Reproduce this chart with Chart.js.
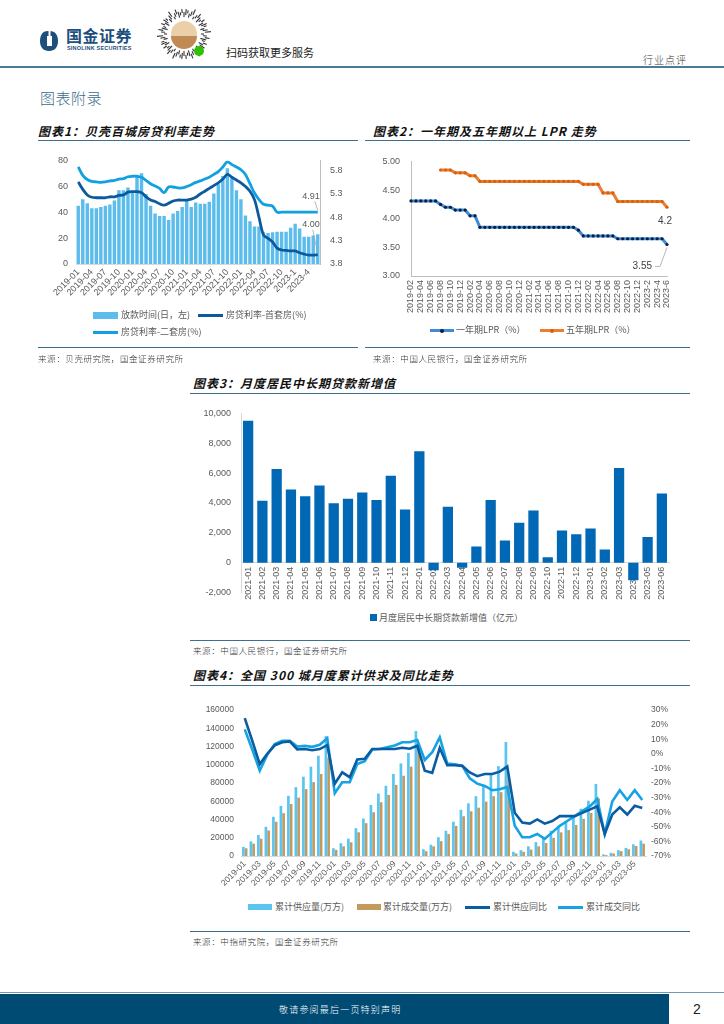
<!DOCTYPE html>
<html>
<head>
<meta charset="utf-8">
<script src="https://cdn.jsdelivr.net/npm/chart.js@4.4.0/dist/chart.umd.min.js"></script>
<style>
  body { margin:0; width:724px; height:1024px; position:relative; background:#fff; overflow:hidden;
         font-family:"Noto Sans CJK SC", sans-serif; }
  .abs { position:absolute; }
  .title { position:absolute; font-size:12px; font-weight:700; font-style:italic; letter-spacing:1px; color:#111; white-space:nowrap; line-height:14px; }
  .rule { position:absolute; height:0; border-top:1.5px solid #3F6F8F; }
  .src { position:absolute; font-size:8.5px; color:#333; letter-spacing:.6px; white-space:nowrap; font-weight:300; line-height:12px; }
  .lg { position:absolute; font-size:9px; color:#595959; white-space:nowrap; line-height:12px; }
  .sw { position:absolute; }
</style>
</head>
<body>

<!-- header -->
<svg class="abs" style="left:39px;top:30px" width="20" height="22" viewBox="0 0 20 22">
  <path d="M9 1 C3 1 1 6 1 11 C1 17 4 21 10 21 C16 21 19 17 19 11 C19 5 16 1 11 1 Z" fill="#1D4F7C"/>
  <rect x="8" y="6" width="5" height="10" fill="#fff"/>
  <rect x="9.5" y="1" width="2" height="5" fill="#fff"/>
</svg>
<div class="abs" style="left:66px;top:26px;font-size:16px;font-weight:700;color:#1D4F7C;line-height:18px;letter-spacing:.5px">国金证券</div>
<div class="abs" style="left:67px;top:45px;font-size:5.5px;font-weight:700;color:#1D4F7C;line-height:7px;font-family:'Liberation Sans',sans-serif;letter-spacing:.2px">SINOLINK SECURITIES</div>
<svg id="qr" class="abs" style="left:155px;top:5px" width="58" height="58" viewBox="0 0 58 58"></svg>
<div class="abs" style="left:226px;top:45px;font-size:11px;color:#222;line-height:14px">扫码获取更多服务</div>
<div class="abs" style="left:643px;top:53px;font-size:10px;color:#333;line-height:13px;letter-spacing:1px;font-weight:300">行业点评</div>
<div class="abs" style="left:0;top:66px;width:724px;height:2px;background:#4E7A96"></div>
<div class="abs" style="left:40px;top:88px;font-size:15px;color:#3A6B8C;line-height:20px;letter-spacing:.5px;font-weight:300">图表附录</div>

<!-- chart 1 frame -->
<div class="title" style="left:38px;top:124px">图表1：贝壳百城房贷利率走势</div>
<div class="rule" style="left:38px;top:140px;width:320px"></div>
<div class="abs" style="left:38px;top:145px;width:322px;height:165px"><canvas id="c1"></canvas></div>
<div class="sw" style="left:93px;top:312px;width:25px;height:7px;background:#5CBDED"></div>
<div class="lg" style="left:121px;top:309px">放款时间(日，左)</div>
<div class="sw" style="left:198px;top:314px;width:25px;height:3px;background:#0B5A9E"></div>
<div class="lg" style="left:226px;top:309px">房贷利率-首套房(%)</div>
<div class="sw" style="left:93px;top:331px;width:25px;height:3px;background:#11A0E0"></div>
<div class="lg" style="left:121px;top:326px">房贷利率-二套房(%)</div>
<div class="rule" style="left:38px;top:347px;width:320px"></div>
<div class="src" style="left:38px;top:352px">来源：贝壳研究院，国金证券研究所</div>

<!-- chart 2 frame -->
<div class="title" style="left:373px;top:124px">图表2：一年期及五年期以上 LPR 走势</div>
<div class="rule" style="left:365px;top:140px;width:325px"></div>
<div class="abs" style="left:365px;top:145px;width:325px;height:178px"><canvas id="c2"></canvas></div>
<div class="sw" style="left:430px;top:329px;width:24px;height:3px;background:#3F8CD6"></div>
<div class="sw" style="left:440px;top:328.5px;width:4px;height:4px;border-radius:2px;background:#0C1E3C"></div>
<div class="lg" style="left:456px;top:324px">一年期LPR（%）</div>
<div class="sw" style="left:540px;top:329px;width:24px;height:3px;background:#ED7D31"></div>
<div class="sw" style="left:550px;top:328.5px;width:4px;height:4px;border-radius:2px;background:#D9600A"></div>
<div class="lg" style="left:566px;top:324px">五年期LPR（%）</div>
<div class="rule" style="left:365px;top:347px;width:325px"></div>
<div class="src" style="left:373px;top:352px">来源：中国人民银行，国金证券研究所</div>

<!-- chart 3 frame -->
<div class="title" style="left:193px;top:376px">图表3：月度居民中长期贷款新增值</div>
<div class="rule" style="left:190px;top:393px;width:500px"></div>
<div class="abs" style="left:190px;top:398px;width:500px;height:210px"><canvas id="c3"></canvas></div>
<div class="sw" style="left:370px;top:614px;width:7px;height:7px;background:#0068B5"></div>
<div class="lg" style="left:379px;top:612px">月度居民中长期贷款新增值（亿元）</div>
<div class="rule" style="left:190px;top:640px;width:500px"></div>
<div class="src" style="left:193px;top:644px">来源：中国人民银行，国金证券研究所</div>

<!-- chart 4 frame -->
<div class="title" style="left:193px;top:668px">图表4：全国 300 城月度累计供求及同比走势</div>
<div class="rule" style="left:190px;top:685px;width:500px"></div>
<div class="abs" style="left:190px;top:698px;width:500px;height:200px"><canvas id="c4"></canvas></div>
<div class="sw" style="left:248px;top:904px;width:24px;height:6px;background:#5BC5F2"></div>
<div class="lg" style="left:275px;top:901px">累计供应量(万方)</div>
<div class="sw" style="left:357px;top:904px;width:24px;height:6px;background:#C49A5C"></div>
<div class="lg" style="left:383px;top:901px">累计成交量(万方)</div>
<div class="sw" style="left:465px;top:905.5px;width:25px;height:3px;background:#0B5DA3"></div>
<div class="lg" style="left:493px;top:901px">累计供应同比</div>
<div class="sw" style="left:558px;top:905.5px;width:25px;height:3px;background:#15A3E3"></div>
<div class="lg" style="left:586px;top:901px">累计成交同比</div>
<div class="rule" style="left:190px;top:931px;width:500px"></div>
<div class="src" style="left:193px;top:935px">来源：中指研究院，国金证券研究所</div>

<!-- footer -->
<div class="abs" style="left:0;top:992px;width:724px;height:1px;background:#6E9BB8"></div>
<div class="abs" style="left:0;top:994px;width:669px;height:30px;background:#004B74"></div>
<div class="abs" style="left:279px;top:1003px;font-size:9px;color:#fff;line-height:13px;letter-spacing:1.2px;font-weight:300">敬请参阅最后一页特别声明</div>
<div class="abs" style="left:693px;top:1000px;font-size:14px;color:#222;line-height:18px;font-family:'Liberation Sans',sans-serif">2</div>

<script>
// ---------- data: chart 1 (贝壳百城房贷利率) ----------
const months1 = [
  '2019-01','2019-02','2019-03','2019-04','2019-05','2019-06','2019-07','2019-08','2019-09','2019-10','2019-11','2019-12',
  '2020-01','2020-02','2020-03','2020-04','2020-05','2020-06','2020-07','2020-08','2020-09','2020-10','2020-11','2020-12',
  '2021-01','2021-02','2021-03','2021-04','2021-05','2021-06','2021-07','2021-08','2021-09','2021-10','2021-11','2021-12',
  '2022-01','2022-02','2022-03','2022-04','2022-05','2022-06','2022-07','2022-08','2022-09','2022-10','2022-11','2022-12',
  '2023-1','2023-2','2023-3','2023-4','2023-5','2023-6'
];
const loanDays = [
  45, 50, 47, 43, 43, 44, 45, 46, 49, 57, 57, 59,
  56, 68, 70, 54, 45, 39, 37, 37, 34, 39, 41, 44,
  50, 44, 47.5, 46.5, 46.5, 48, 54.5, 61.5, 68, 74, 67, 57,
  50, 37.5, 33, 29, 29, 24.5, 24, 24.5, 25, 25, 25, 28,
  31, 27.5, 21, 21, 22, 23
];
const rate1st = [
  5.56, 5.40, 5.28, 5.23, 5.22, 5.22, 5.22, 5.24, 5.24, 5.27, 5.28, 5.34,
  5.35, 5.35, 5.33, 5.24, 5.17, 5.14, 5.09, 5.06, 5.10, 5.15, 5.17, 5.17,
  5.17, 5.19, 5.23, 5.30, 5.36, 5.42, 5.48, 5.54, 5.62, 5.72, 5.66, 5.60,
  5.54, 5.46, 5.36, 5.18, 4.80, 4.42, 4.35, 4.27, 4.14, 4.10, 4.09, 4.08,
  4.08, 4.04, 4.01, 3.99, 3.99, 4.00
];
const rate2nd = [
  5.88, 5.70, 5.61, 5.57, 5.56, 5.55, 5.56, 5.58, 5.59, 5.62, 5.63, 5.67,
  5.68, 5.68, 5.66, 5.59, 5.52, 5.47, 5.42, 5.33, 5.45, 5.45, 5.43, 5.43,
  5.46, 5.50, 5.55, 5.58, 5.62, 5.66, 5.72, 5.78, 5.88, 5.99, 5.93, 5.88,
  5.82, 5.72, 5.52, 5.32, 5.18, 5.08, 5.06, 5.04, 4.91, 4.91, 4.91, 4.91,
  4.91, 4.91, 4.91, 4.91, 4.91, 4.91
];
const rateTicks = [3.8, 4.3, 4.8, 5.3, 5.8];

// ---------- data: chart 2 (LPR) ----------
const months2 = [
  '2019-02','2019-03','2019-04','2019-05','2019-06','2019-07','2019-08','2019-09','2019-10','2019-11','2019-12',
  '2020-01','2020-02','2020-03','2020-04','2020-05','2020-06','2020-07','2020-08','2020-09','2020-10','2020-11','2020-12',
  '2021-01','2021-02','2021-03','2021-04','2021-05','2021-06','2021-07','2021-08','2021-09','2021-10','2021-11','2021-12',
  '2022-01','2022-02','2022-03','2022-04','2022-05','2022-06','2022-07','2022-08','2022-09','2022-10','2022-11','2022-12',
  '2023-1','2023-2','2023-3','2023-4','2023-5','2023-6'
];
const lpr1y = [
  4.31, 4.31, 4.31, 4.31, 4.31, 4.31, 4.25, 4.20, 4.20, 4.15, 4.15,
  4.15, 4.05, 4.05, 3.85, 3.85, 3.85, 3.85, 3.85, 3.85, 3.85, 3.85, 3.85,
  3.85, 3.85, 3.85, 3.85, 3.85, 3.85, 3.85, 3.85, 3.85, 3.85, 3.85, 3.80,
  3.70, 3.70, 3.70, 3.70, 3.70, 3.70, 3.70, 3.65, 3.65, 3.65, 3.65, 3.65,
  3.65, 3.65, 3.65, 3.65, 3.65, 3.55
];
const lpr5y = [
  null, null, null, null, null, null, 4.85, 4.85, 4.85, 4.80, 4.80,
  4.80, 4.75, 4.75, 4.65, 4.65, 4.65, 4.65, 4.65, 4.65, 4.65, 4.65, 4.65,
  4.65, 4.65, 4.65, 4.65, 4.65, 4.65, 4.65, 4.65, 4.65, 4.65, 4.65, 4.65,
  4.60, 4.60, 4.60, 4.60, 4.45, 4.45, 4.45, 4.30, 4.30, 4.30, 4.30, 4.30,
  4.30, 4.30, 4.30, 4.30, 4.30, 4.20
];

// ---------- data: chart 3 (居民中长期贷款) ----------
const months3 = [
  '2021-01','2021-02','2021-03','2021-04','2021-05','2021-06','2021-07','2021-08','2021-09','2021-10','2021-11','2021-12',
  '2022-01','2022-02','2022-03','2022-04','2022-05','2022-06','2022-07','2022-08','2022-09','2022-10','2022-11','2022-12',
  '2023-01','2023-02','2023-03','2023-04','2023-05','2023-06'
];
const newLoans = [
  9500, 4150, 6280, 4910, 4460, 5170, 3980, 4290, 4700, 4200, 5820, 3570,
  7470, -500, 3745, -330, 1080, 4200, 1490, 2680, 3500, 370, 2160, 1900,
  2290, 890, 6340, -1170, 1730, 4630
];

// ---------- data: chart 4 (300城累计供求) ----------
const months4 = [
  '2019-01','2019-02','2019-03','2019-04','2019-05','2019-06','2019-07','2019-08','2019-09','2019-10','2019-11','2019-12',
  '2020-01','2020-02','2020-03','2020-04','2020-05','2020-06','2020-07','2020-08','2020-09','2020-10','2020-11','2020-12',
  '2021-01','2021-02','2021-03','2021-04','2021-05','2021-06','2021-07','2021-08','2021-09','2021-10','2021-11','2021-12',
  '2022-01','2022-02','2022-03','2022-04','2022-05','2022-06','2022-07','2022-08','2022-09','2022-10','2022-11','2022-12',
  '2023-01','2023-02','2023-03','2023-04','2023-05','2023-06'
];
const supplyCum = [
  10000, 16000, 23000, 32000, 43000, 55000, 66000, 75500, 87000, 98000, 110000, 131500,
  8500, 14000, 19000, 30500, 41000, 56000, 68500, 77000, 90000, 101500, 113000, 137000,
  7400, 12400, 20600, 27700, 37600, 50700, 57800, 65600, 77300, 89700, 98600, 125000,
  4600, 6400, 10600, 15200, 20600, 27700, 33000, 38300, 43600, 51800, 60600, 79000,
  1800, 3500, 6400, 8900, 12800, 17000
];
const dealCum = [
  8500, 13500, 19000, 28000, 37500, 47000, 57000, 64000, 73400, 81000, 90000, 108000,
  6700, 10600, 15000, 26000, 36000, 48000, 59000, 67000, 78000, 88000, 98000, 119000,
  5300, 10600, 16300, 24000, 33000, 43600, 49000, 53000, 59600, 65600, 70000, 89700,
  2800, 4600, 7000, 10600, 14200, 19900, 25900, 28400, 34000, 40800, 47200, 63000,
  1000, 2800, 5300, 7400, 11000, 13500
];
const supplyYoY = [
  24.5, 9, -7, 0, 5.8, 8, 8.5, 3, 3.3, 2.5, 3.3, 6,
  -20.5, -12.7, -16, -3.8, -3.3, 3.3, 3.3, 3.3, 3.3, 4.2, 3.5, 5.6,
  -11.5, -13, 4, -7.8, -7.8, -8.2, -12.7, -15.3, -13.8, -13.8, -12.2, -8.7,
  -40.4, -47, -47.8, -44.9, -47.8, -46, -42.7, -42.7, -42.7, -40.4, -38.2, -36,
  -54.9, -41.6, -36.7, -41.6, -35.6, -37.1
];
const dealYoY = [
  16.8, 3, -11.5, -0.5, 6.8, 9, 9, 5, 5.5, 4.8, 6.2, 10.7,
  -27, -19.5, -19.5, -7, -5, 3, 3.3, 4.5, 5.8, 8, 8, 9.5,
  -4.2, 1.1, 11.3, -6.7, -7.1, -8.2, -16.7, -20.4, -22, -24.9, -24.2, -22.7,
  -49.3, -57.1, -57.1, -54.9, -58.2, -53.8, -49.3, -46, -42.7, -39.3, -36, -30.9,
  -54.9, -32.7, -24.9, -31.6, -24.9, -31.6
];

// ---------- header QR decoration ----------
(function () {
  const svg = document.getElementById('qr');
  let s = '<circle cx="29" cy="29" r="28" fill="#fff"/>';
  for (let k = 0; k < 72; k++) {
    const a = k * Math.PI * 2 / 72;
    const r1 = 17 + (k % 3) * 2, r2 = r1 + 3 + (k % 4);
    s += '<line x1="' + (29 + r1 * Math.cos(a)).toFixed(1) + '" y1="' + (29 + r1 * Math.sin(a)).toFixed(1) +
         '" x2="' + (29 + r2 * Math.cos(a)).toFixed(1) + '" y2="' + (29 + r2 * Math.sin(a)).toFixed(1) +
         '" stroke="#333" stroke-width="1.1"/>';
  }
  s += '<circle cx="29" cy="29" r="13" fill="#EBCFA8"/>';
  s += '<path d="M16 31 A13 13 0 0 0 42 31 Z" fill="#C08A55"/>';
  s += '<circle cx="44" cy="46" r="5" fill="#2DC100"/>';
  svg.innerHTML = s;
})();

// ---------- common ----------
Chart.defaults.font.family = '"Liberation Sans", Arial, "Noto Sans CJK SC", sans-serif';
Chart.defaults.font.size = 9;
Chart.defaults.color = '#595959';
Chart.defaults.animation = false;
Chart.defaults.plugins.legend.display = false;
Chart.defaults.plugins.tooltip.enabled = false;

function leader(ctx, x1, y1, x2, y2) {
  ctx.beginPath(); ctx.moveTo(x1, y1); ctx.lineTo(x2, y2); ctx.stroke();
}

// ---------- chart 1 ----------
const callout1 = {
  id: 'callout1',
  afterDatasetsDraw(chart) {
    const { ctx, scales } = chart;
    const i = months1.length - 1;
    const x = scales.x.getPixelForValue(i);
    ctx.save();
    ctx.font = '9px "Liberation Sans", Arial';
    ctx.fillStyle = '#595959';
    ctx.strokeStyle = '#A6A6A6';
    ctx.lineWidth = 0.8;
    ctx.textAlign = 'right';
    ctx.textBaseline = 'middle';
    let y = scales.y1.getPixelForValue(rate2nd[i]);
    ctx.fillText(rate2nd[i].toFixed(2), x + 2, y - 16);
    leader(ctx, x - 3, y - 11, x, y - 2);
    y = scales.y1.getPixelForValue(rate1st[i]);
    ctx.fillText(rate1st[i].toFixed(2), x + 2, y - 30);
    leader(ctx, x - 5, y - 25, x, y - 1);
    ctx.restore();
  }
};

new Chart(document.getElementById('c1'), {
  data: {
    labels: months1,
    datasets: [
      { type: 'line', data: rate1st, yAxisID: 'y1', borderColor: '#0B5A9E', borderWidth: 2.8,
        pointRadius: 0, tension: 0.35, order: 0 },
      { type: 'line', data: rate2nd, yAxisID: 'y1', borderColor: '#11A0E0', borderWidth: 2.8,
        pointRadius: 0, tension: 0.35, order: 0 },
      { type: 'bar', data: loanDays, yAxisID: 'y', backgroundColor: '#5CBDED',
        categoryPercentage: 0.8, barPercentage: 0.95, order: 1 }
    ]
  },
  options: {
    responsive: true,
    maintainAspectRatio: false,
    layout: { padding: { top: 11, left: 0, right: 0, bottom: 0 } },
    scales: {
      x: {
        grid: { display: false, drawTicks: false },
        border: { color: '#D9D9D9' },
        ticks: { autoSkip: false, minRotation: 45, maxRotation: 45, padding: 3,
                 callback: (v, i) => (i % 3 === 0 ? months1[i] : '') },
        afterFit: s => { s.height = 46; }
      },
      y: {
        position: 'left', min: 0, max: 80,
        grid: { display: false, drawTicks: false },
        border: { display: false },
        ticks: { stepSize: 10, padding: 8 },
        afterFit: s => { s.width = 38; }
      },
      y1: {
        position: 'right', min: 3.8, max: 6.02,
        grid: { display: false, drawTicks: false },
        border: { color: '#BFBFBF' },
        afterBuildTicks: s => { s.ticks = rateTicks.map(v => ({ value: v })); },
        ticks: { padding: 10, callback: v => v.toFixed(1) },
        afterFit: s => { s.width = 40; }
      }
    }
  },
  plugins: [callout1]
});

// ---------- chart 2 ----------
const callout2 = {
  id: 'callout2',
  afterDatasetsDraw(chart) {
    const { ctx, scales } = chart;
    const i = months2.length - 1;
    const x = scales.x.getPixelForValue(i);
    ctx.save();
    ctx.font = '10px "Liberation Sans", Arial';
    ctx.fillStyle = '#404040';
    ctx.strokeStyle = '#A6A6A6';
    ctx.lineWidth = 0.8;
    ctx.textBaseline = 'middle';
    let y = scales.y.getPixelForValue(lpr5y[i]);
    ctx.textAlign = 'center';
    ctx.fillText(String(lpr5y[i]), x - 2, y + 14);
    y = scales.y.getPixelForValue(lpr1y[i]);
    ctx.textAlign = 'right';
    ctx.fillText(lpr1y[i].toFixed(2), x - 15, y + 22);
    ctx.beginPath();
    ctx.moveTo(x - 12, y + 22); ctx.lineTo(x - 7, y + 22); ctx.lineTo(x, y + 3);
    ctx.stroke();
    ctx.restore();
  }
};

new Chart(document.getElementById('c2'), {
  type: 'line',
  data: {
    labels: months2,
    datasets: [
      { data: lpr1y, borderColor: '#3F8CD6', borderWidth: 3, pointRadius: 1.6,
        pointBackgroundColor: '#0C1E3C', pointBorderWidth: 0, tension: 0 },
      { data: lpr5y, borderColor: '#ED7D31', borderWidth: 3, pointRadius: 1.6,
        pointBackgroundColor: '#D9600A', pointBorderWidth: 0, tension: 0 }
    ]
  },
  options: {
    responsive: true,
    maintainAspectRatio: false,
    layout: { padding: { top: 11, left: 0, right: 23, bottom: 0 } },
    scales: {
      x: {
        offset: false,
        grid: { display: false, drawTicks: false },
        border: { color: '#BFBFBF' },
        ticks: { autoSkip: false, minRotation: 90, maxRotation: 90, padding: 4,
                 callback: (v, i) => (i % 2 === 0 ? months2[i] : '') },
        afterFit: s => { s.height = 47; }
      },
      y: {
        min: 3, max: 5,
        grid: { display: false, drawTicks: false },
        border: { color: '#BFBFBF' },
        ticks: { stepSize: 0.5, padding: 11, callback: v => v.toFixed(2) },
        afterFit: s => { s.width = 46; }
      }
    }
  },
  plugins: [callout2]
});

// ---------- chart 3 ----------
new Chart(document.getElementById('c3'), {
  type: 'bar',
  data: {
    labels: months3,
    datasets: [
      { data: newLoans, backgroundColor: '#0068B5', categoryPercentage: 0.72, barPercentage: 1 }
    ]
  },
  options: {
    responsive: true,
    maintainAspectRatio: false,
    layout: { padding: { top: 14, left: 0, right: 21, bottom: 11 } },
    scales: {
      x: {
        position: { y: 0 },
        grid: { display: false, drawTicks: false },
        border: { color: '#D9D9D9' },
        ticks: { autoSkip: false, minRotation: 90, maxRotation: 90, padding: 4 }
      },
      y: {
        min: -2000, max: 10000,
        grid: { display: false, drawTicks: false },
        border: { color: '#D9D9D9' },
        ticks: { stepSize: 2000, padding: 10, callback: v => v.toLocaleString('en-US') },
        afterFit: s => { s.width = 51; }
      }
    }
  }
});

// ---------- chart 4 ----------
new Chart(document.getElementById('c4'), {
  data: {
    labels: months4,
    datasets: [
      { type: 'line', data: supplyYoY, yAxisID: 'y1', borderColor: '#0B5DA3', borderWidth: 2.6,
        pointRadius: 0, tension: 0, order: 0 },
      { type: 'line', data: dealYoY, yAxisID: 'y1', borderColor: '#15A3E3', borderWidth: 2.6,
        pointRadius: 0, tension: 0, order: 0 },
      { type: 'bar', data: supplyCum, yAxisID: 'y', backgroundColor: '#5BC5F2',
        categoryPercentage: 0.72, barPercentage: 1, order: 1 },
      { type: 'bar', data: dealCum, yAxisID: 'y', backgroundColor: '#C49A5C',
        categoryPercentage: 0.72, barPercentage: 1, order: 1 }
    ]
  },
  options: {
    responsive: true,
    maintainAspectRatio: false,
    layout: { padding: { top: 8, left: 0, right: 0, bottom: 0 } },
    scales: {
      x: {
        grid: { display: false, drawTicks: false },
        border: { color: '#D9D9D9' },
        ticks: { autoSkip: false, minRotation: 45, maxRotation: 45, padding: 3,
                 font: { size: 8.5 },
                 callback: (v, i) => (i % 2 === 0 ? months4[i] : '') },
        afterFit: s => { s.height = 42; }
      },
      y: {
        position: 'left', min: 0, max: 160000,
        grid: { display: false, drawTicks: false },
        border: { display: false },
        ticks: { stepSize: 20000, padding: 7, font: { size: 8.5 }, callback: v => String(v) },
        afterFit: s => { s.width = 51; }
      },
      y1: {
        position: 'right', min: -70, max: 30,
        grid: { display: false, drawTicks: false },
        border: { display: false },
        ticks: { stepSize: 10, padding: 5, font: { size: 8.5 }, callback: v => v + '%' },
        afterFit: s => { s.width = 44; }
      }
    }
  }
});
</script>
</body>
</html>
